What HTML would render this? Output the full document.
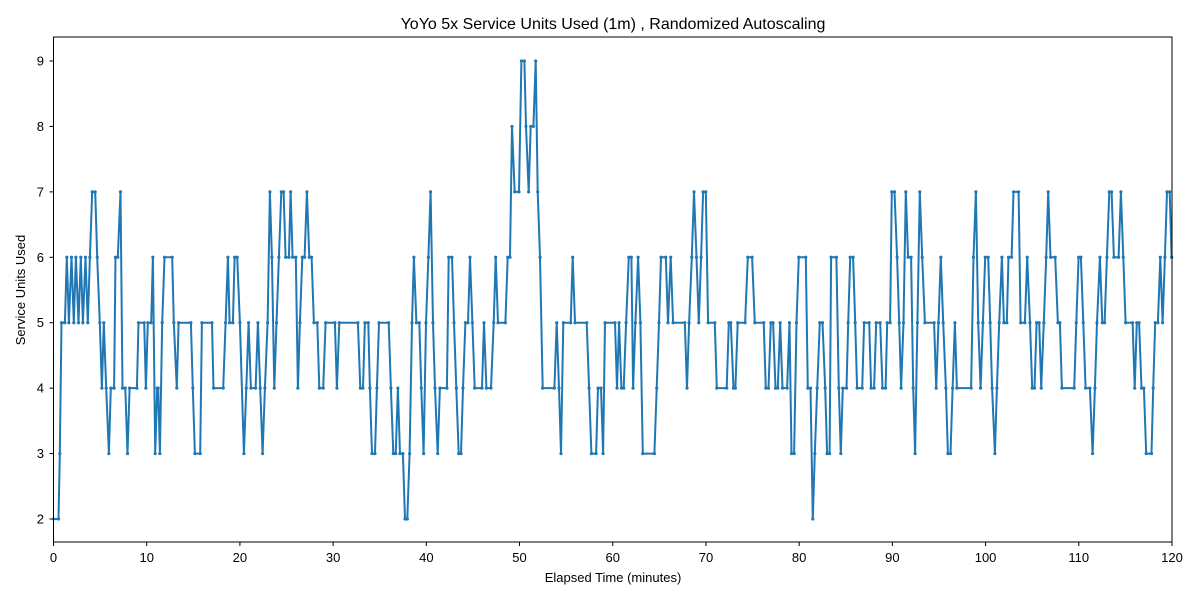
<!DOCTYPE html>
<html><head><meta charset="utf-8"><style>
body{margin:0;background:#fff;}
svg text{font-family:"Liberation Sans",sans-serif;fill:#000;}
</style></head><body>
<svg id="chart" width="1200" height="600" xmlns="http://www.w3.org/2000/svg">
<rect x="0" y="0" width="1200" height="600" fill="#fff"/>
<text x="613" y="29" font-size="16" text-anchor="middle">YoYo 5x Service Units Used (1m) , Randomized Autoscaling</text>
<text x="613" y="582" font-size="13" text-anchor="middle">Elapsed Time (minutes)</text>
<text transform="translate(25,290) rotate(-90)" font-size="13" text-anchor="middle">Service Units Used</text>
<g id="ticks"></g>
<g id="series"></g>
<rect x="53.5" y="37" width="1118.5" height="505" fill="none" stroke="#000" stroke-width="1"/>
</svg>
<script>
const times = [0,0.54,0.68,0.86,1.22,1.43,1.65,1.93,2.18,2.4,2.68,2.93,3.15,3.43,3.68,3.9,4.15,4.47,4.69,4.97,5.19,5.4,5.65,5.94,6.15,6.5,6.65,6.9,7.19,7.4,7.7,7.94,8.16,8.95,9.12,9.73,9.91,10.12,10.48,10.66,10.91,11.13,11.23,11.41,11.66,11.91,12.74,12.91,13.23,13.42,14.74,14.95,15.17,15.74,15.92,17.0,17.17,18.21,18.46,18.71,18.89,19.25,19.43,19.71,20.0,20.43,20.68,20.93,21.18,21.68,21.93,22.18,22.43,22.68,22.97,23.22,23.43,23.69,23.93,24.18,24.44,24.69,24.9,25.26,25.44,25.65,26.0,26.22,26.44,26.69,26.94,27.19,27.44,27.69,27.94,28.3,28.52,28.94,29.19,30.19,30.41,30.66,32.66,32.92,33.2,33.41,33.77,33.95,34.17,34.49,34.7,34.92,35.96,36.2,36.46,36.71,36.95,37.17,37.49,37.71,37.96,38.21,38.46,38.67,38.93,39.25,39.46,39.71,39.96,40.22,40.46,40.71,40.93,41.22,41.46,42.21,42.4,42.75,42.97,43.22,43.47,43.72,43.93,44.19,44.47,44.68,44.94,45.19,45.97,46.19,46.44,46.94,47.23,47.44,47.69,48.48,48.73,48.98,49.19,49.48,49.94,50.2,50.52,50.69,50.98,51.2,51.49,51.73,51.95,52.2,52.48,53.74,53.99,54.23,54.45,54.7,55.49,55.7,55.95,57.21,57.46,57.71,58.21,58.42,58.74,58.96,59.17,60.24,60.46,60.68,60.93,61.18,61.43,61.72,62.0,62.18,62.43,62.72,62.97,63.22,64.47,64.72,64.96,65.18,65.69,65.93,66.22,66.47,67.73,67.97,68.19,68.48,68.72,68.98,69.23,69.48,69.69,69.98,70.23,70.95,71.16,72.23,72.45,72.66,72.95,73.16,73.41,74.2,74.49,74.95,75.24,76.2,76.42,76.71,76.96,77.2,77.46,77.71,77.96,78.21,78.71,78.96,79.18,79.46,79.71,79.96,80.71,80.93,81.22,81.46,81.68,81.93,82.21,82.5,82.79,83.0,83.26,83.43,84.0,84.25,84.47,84.68,85.08,85.26,85.47,85.79,86.01,86.22,86.76,86.97,87.51,87.72,88.04,88.26,88.69,88.94,89.27,89.44,89.76,89.94,90.23,90.51,90.73,90.94,91.19,91.44,91.69,92.01,92.23,92.44,92.69,92.94,93.2,93.49,94.48,94.7,94.95,95.2,95.45,95.74,95.96,96.24,96.46,96.71,96.92,98.45,98.7,98.96,99.21,99.46,99.71,99.96,100.28,100.49,100.7,101.0,101.21,101.46,101.75,101.96,102.28,102.46,102.79,103.0,103.54,103.76,104.22,104.47,104.76,105.0,105.25,105.47,105.75,105.97,106.25,106.5,106.72,106.97,107.47,107.76,107.97,108.19,109.51,109.73,109.98,110.23,110.48,110.73,111.19,111.48,111.73,111.95,112.27,112.52,112.77,113.02,113.27,113.52,113.77,114.27,114.52,114.77,115.02,115.77,116.0,116.22,116.47,116.73,116.98,117.23,117.8,117.98,118.2,118.49,118.74,118.99,119.24,119.46,119.75,119.96];
const units = [2,2,3,5,5,6,5,6,5,6,5,6,5,6,5,6,7,7,6,5,4,5,4,3,4,4,6,6,7,4,4,3,4,4,5,5,4,5,5,6,3,4,4,3,5,6,6,5,4,5,5,4,3,3,5,5,4,4,5,6,5,5,6,6,5,3,4,5,4,4,5,4,3,4,5,7,6,4,5,6,7,7,6,6,7,6,6,4,5,6,6,7,6,6,5,5,4,4,5,5,4,5,5,4,4,5,5,4,3,3,4,5,5,4,3,3,4,3,3,2,2,3,5,6,5,5,4,3,5,6,7,5,4,3,4,4,6,6,5,4,3,3,4,5,5,6,5,4,4,5,4,4,5,6,5,5,6,6,8,7,7,9,9,8,7,8,8,9,7,6,4,4,5,4,3,5,5,6,5,5,4,3,3,4,4,3,5,5,4,5,4,4,5,6,6,4,5,6,5,3,3,4,5,6,6,5,6,5,5,4,5,6,7,6,5,6,7,7,5,5,4,4,5,5,4,4,5,5,6,6,5,5,4,4,5,5,4,4,5,4,4,5,3,3,5,6,6,4,4,2,3,4,5,5,4,3,3,6,6,4,3,4,4,5,6,6,5,4,4,5,5,4,4,5,5,4,4,5,5,7,7,6,5,4,5,7,6,6,4,3,5,7,6,5,5,4,5,6,5,4,3,3,4,5,4,4,6,7,5,4,5,6,6,5,4,3,4,5,6,5,5,6,6,7,7,5,5,6,5,4,4,5,5,4,5,6,7,6,6,5,5,4,4,5,6,6,5,4,4,3,4,5,6,5,5,6,7,7,6,6,7,6,5,5,4,5,5,4,4,3,3,4,5,5,6,5,6,7,7,6];
const xTicks = [0,10,20,30,40,50,60,70,80,90,100,110,120];
const yTicks = [2,3,4,5,6,7,8,9];

const NS = "http://www.w3.org/2000/svg";
const xScale = t => 53.5 + (t - 0) * (1118.5 / 120);
const yScale = v => 519 - (v - 2) * (458 / 7);

const tg = document.getElementById('ticks');
xTicks.forEach(t => {
  const l = document.createElementNS(NS,'line');
  l.setAttribute('x1', xScale(t)); l.setAttribute('x2', xScale(t));
  l.setAttribute('y1', 542); l.setAttribute('y2', 546);
  l.setAttribute('stroke', '#000');
  
  
  tg.appendChild(l);
  const tx = document.createElementNS(NS,'text');
  tx.setAttribute('x', xScale(t)); tx.setAttribute('y', 562);
  tx.setAttribute('font-size', '13'); tx.setAttribute('text-anchor', 'middle');
  tx.textContent = t;
  
  
  tg.appendChild(tx);
});
yTicks.forEach(v => {
  const l = document.createElementNS(NS,'line');
  l.setAttribute('x1', 49.5); l.setAttribute('x2', 53.5);
  l.setAttribute('y1', yScale(v)); l.setAttribute('y2', yScale(v));
  l.setAttribute('stroke', '#000');
  
  
  tg.appendChild(l);
  const tx = document.createElementNS(NS,'text');
  tx.setAttribute('x', 44); tx.setAttribute('y', yScale(v) + 4.5);
  tx.setAttribute('font-size', '13'); tx.setAttribute('text-anchor', 'end');
  tx.textContent = v;
  
  
  tg.appendChild(tx);
});

const sg = document.getElementById('series');
const pts = times.map((t, i) => xScale(t).toFixed(1) + ',' + yScale(units[i]).toFixed(1)).join(' ');
const pl = document.createElementNS(NS,'polyline');
pl.setAttribute('points', pts);
pl.setAttribute('fill', 'none');
pl.setAttribute('stroke', '#1f77b4');
pl.setAttribute('stroke-width', '2');
pl.setAttribute('stroke-linejoin', 'round');


sg.appendChild(pl);
times.forEach((t, i) => {
  const c = document.createElementNS(NS,'circle');
  c.setAttribute('cx', xScale(t)); c.setAttribute('cy', yScale(units[i]));
  c.setAttribute('r', 1.6); c.setAttribute('fill', '#1f77b4');
  
  
  sg.appendChild(c);
});
</script>
</body></html>
